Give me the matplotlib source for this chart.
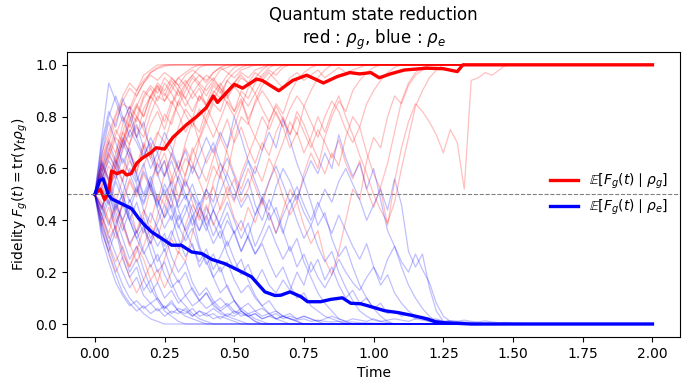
import numpy as np
import matplotlib
matplotlib.use("Agg")
import matplotlib.pyplot as plt

DT = 0.025
T_END = 2.0

# Individual trajectories (values on a 0.025 time grid until absorption)
red_traj = [
    [0.5,0.62,0.70,0.78,0.85,0.83,0.90,0.94,0.97,0.985,0.995,1.0],
    [0.5,0.44,0.55,0.63,0.58,0.70,0.76,0.72,0.81,0.88,0.86,0.92,0.95,0.97,0.99,1.0],
    [0.5,0.41,0.33,0.38,0.27,0.22,0.30,0.25,0.17,0.21,0.14,0.20,0.28,0.24,0.35,0.45,0.40,0.55,0.62,0.58,0.71,0.80,0.77,0.86,0.92,0.95,0.98,1.0],
    [0.5,0.58,0.49,0.62,0.71,0.66,0.59,0.68,0.77,0.82,0.75,0.84,0.90,0.87,0.93,0.96,0.94,0.97,0.99,1.0],
    [0.5,0.55,0.64,0.72,0.68,0.79,0.85,0.80,0.88,0.84,0.78,0.86,0.81,0.74,0.79,0.70,0.62,0.68,0.58,0.50,0.56,0.47,0.52,0.61,0.55,0.64,0.58,0.49,0.42,0.47,0.38,0.31,0.36,0.25,0.19,0.28,0.40,0.52,0.48,0.63,0.72,0.68,0.80,0.88,0.85,0.92,0.96,0.98,1.0],
    [0.5,0.60,0.68,0.62,0.74,0.82,0.78,0.87,0.91,0.86,0.93,0.89,0.84,0.90,0.95,0.92,0.88,0.93,0.90,0.85,0.80,0.86,0.78,0.72,0.80,0.75,0.82,0.76,0.68,0.74,0.66,0.72,0.80,0.74,0.82,0.88,0.80,0.73,0.65,0.58,0.50,0.44,0.39,0.47,0.60,0.72,0.84,0.90,0.95,0.98,1.0],
    [0.5,0.57,0.50,0.62,0.70,0.77,0.72,0.83,0.88,0.92,0.86,0.90,0.95,0.92,0.87,0.91,0.84,0.89,0.93,0.88,0.82,0.87,0.79,0.85,0.90,0.86,0.81,0.76,0.83,0.88,0.84,0.78,0.72,0.80,0.86,0.82,0.75,0.70,0.76,0.66,0.58,0.52,0.38,0.55,0.68,0.78,0.85,0.82,0.78,0.73,0.66,0.75,0.70,0.52,0.94,0.95,0.97,0.96,0.98,1.0],
    [0.5,0.45,0.52,0.60,0.55,0.66,0.61,0.70,0.64,0.57,0.63,0.54,0.60,0.68,0.62,0.55,0.48,0.53,0.44,0.50,0.41,0.36,0.45,0.39,0.48,0.42,0.35,0.44,0.52,0.47,0.58,0.66,0.60,0.72,0.80,0.86,0.82,0.90,0.94,0.97,0.99,1.0],
    [0.5,0.38,0.45,0.36,0.48,0.56,0.50,0.61,0.68,0.74,0.70,0.79,0.86,0.92,0.96,0.99,1.0],
    [0.5,0.62,0.56,0.48,0.40,0.46,0.35,0.42,0.52,0.47,0.58,0.65,0.59,0.70,0.78,0.74,0.83,0.90,0.87,0.94,0.97,0.99,1.0],
    [0.5,0.42,0.35,0.45,0.38,0.30,0.36,0.44,0.39,0.50,0.46,0.56,0.63,0.57,0.68,0.61,0.55,0.64,0.72,0.66,0.58,0.52,0.60,0.53,0.46,0.55,0.63,0.70,0.78,0.73,0.84,0.90,0.95,0.98,1.0],
    [0.5,0.66,0.74,0.81,0.88,0.93,0.90,0.96,0.98,1.0],
    [0.5,0.53,0.61,0.56,0.67,0.74,0.80,0.76,0.85,0.91,0.88,0.94,0.90,0.84,0.89,0.93,0.96,0.94,0.98,0.99,1.0],
    [0.5,0.56,0.65,0.60,0.71,0.78,0.84,0.80,0.88,0.93,0.90,0.95,0.92,0.87,0.82,0.88,0.84,0.78,0.72,0.79,0.70,0.76,0.68,0.62,0.70,0.65,0.74,0.80,0.73,0.82,0.77,0.70,0.64,0.58,0.66,0.61,0.72,0.80,0.76,0.85,0.90,0.94,0.97,0.99,1.0],
    [0.5,0.47,0.40,0.33,0.40,0.31,0.24,0.30,0.38,0.33,0.43,0.52,0.47,0.58,0.66,0.72,0.80,0.86,0.92,0.96,0.99,1.0],
    [0.5,0.59,0.67,0.75,0.70,0.82,0.88,0.93,0.97,0.99,1.0],
    [0.5,0.64,0.72,0.80,0.86,0.91,0.88,0.93,0.96,0.94,0.97,0.95,0.92,0.96,0.98,0.96,0.93,0.97,0.99,0.97,0.95,0.98,0.99,1.0],
    [0.5,0.40,0.31,0.24,0.30,0.22,0.28,0.37,0.31,0.42,0.50,0.45,0.57,0.64,0.60,0.71,0.78,0.85,0.82,0.90,0.93,0.97,0.95,0.98,0.99,1.0],
    [0.5,0.54,0.47,0.39,0.46,0.55,0.49,0.58,0.52,0.63,0.70,0.65,0.76,0.83,0.79,0.88,0.85,0.92,0.89,0.94,0.91,0.95,0.93,0.97,0.95,0.98,0.96,0.99,1.0],
    [0.5,0.61,0.55,0.66,0.74,0.69,0.80,0.75,0.68,0.60,0.66,0.57,0.49,0.56,0.47,0.40,0.46,0.38,0.45,0.53,0.47,0.58,0.65,0.72,0.67,0.78,0.85,0.81,0.89,0.94,0.97,0.99,1.0],
    [0.5,0.36,0.28,0.20,0.26,0.18,0.12,0.17,0.23,0.16,0.25,0.33,0.27,0.38,0.46,0.41,0.52,0.61,0.56,0.68,0.76,0.84,0.91,0.95,0.98,1.0],
    [0.5,0.58,0.66,0.73,0.80,0.76,0.84,0.90,0.87,0.92,0.89,0.85,0.91,0.94,0.90,0.86,0.92,0.95,0.91,0.88,0.93,0.96,0.93,0.89,0.94,0.97,0.94,0.91,0.95,0.97,0.94,0.96,0.98,0.95,0.97,0.99,0.97,0.98,0.99,1.0],
    [0.5,0.46,0.39,0.47,0.56,0.63,0.58,0.69,0.64,0.73,0.81,0.77,0.86,0.81,0.76,0.83,0.78,0.72,0.79,0.86,0.82,0.90,0.87,0.93,0.96,0.99,1.0],
    [0.5,0.63,0.71,0.66,0.77,0.84,0.80,0.88,0.92,0.89,0.95,0.92,0.88,0.93,0.96,0.93,0.90,0.94,0.91,0.87,0.92,0.88,0.84,0.89,0.83,0.78,0.84,0.79,0.73,0.80,0.74,0.68,0.75,0.70,0.64,0.71,0.62,0.56,0.63,0.52,0.45,0.53,0.62,0.74,0.86,0.93,0.97,0.99,1.0],
]

blue_traj = [
    [0.5,0.38,0.30,0.22,0.15,0.10,0.07,0.04,0.02,0.01,0.0],
    [0.5,0.62,0.55,0.45,0.50,0.40,0.33,0.38,0.28,0.20,0.24,0.16,0.10,0.07,0.04,0.02,0.01,0.0],
    [0.5,0.72,0.93,0.86,0.78,0.84,0.72,0.65,0.70,0.58,0.50,0.55,0.44,0.36,0.42,0.30,0.24,0.18,0.22,0.14,0.09,0.05,0.03,0.01,0.0],
    [0.5,0.58,0.66,0.60,0.70,0.64,0.55,0.62,0.52,0.45,0.54,0.48,0.40,0.46,0.38,0.44,0.52,0.47,0.58,0.64,0.57,0.50,0.56,0.46,0.40,0.48,0.42,0.35,0.44,0.50,0.43,0.38,0.45,0.52,0.47,0.55,0.60,0.54,0.48,0.40,0.46,0.52,0.44,0.56,0.46,0.28,0.22,0.27,0.14,0.05,0.01,0.0],
    [0.5,0.60,0.52,0.44,0.50,0.42,0.35,0.41,0.33,0.39,0.46,0.40,0.48,0.55,0.50,0.42,0.36,0.44,0.38,0.30,0.36,0.28,0.34,0.42,0.49,0.44,0.53,0.60,0.55,0.48,0.56,0.63,0.58,0.66,0.60,0.73,0.64,0.57,0.62,0.52,0.60,0.48,0.36,0.30,0.22,0.15,0.10,0.06,0.03,0.01,0.0],
    [0.5,0.44,0.52,0.58,0.50,0.60,0.54,0.47,0.55,0.62,0.57,0.66,0.60,0.53,0.61,0.56,0.64,0.70,0.62,0.55,0.48,0.56,0.63,0.58,0.67,0.74,0.68,0.79,0.71,0.62,0.55,0.47,0.38,0.43,0.33,0.26,0.30,0.22,0.15,0.10,0.06,0.03,0.01,0.0],
    [0.5,0.56,0.63,0.58,0.68,0.75,0.70,0.64,0.72,0.66,0.74,0.68,0.60,0.67,0.58,0.65,0.72,0.66,0.74,0.68,0.80,0.72,0.63,0.55,0.48,0.40,0.45,0.36,0.28,0.33,0.24,0.18,0.12,0.08,0.05,0.02,0.01,0.0],
    [0.5,0.35,0.28,0.36,0.25,0.18,0.22,0.13,0.17,0.10,0.06,0.09,0.05,0.03,0.02,0.01,0.0],
    [0.5,0.40,0.48,0.36,0.29,0.20,0.25,0.17,0.12,0.16,0.10,0.13,0.08,0.11,0.07,0.09,0.06,0.08,0.05,0.07,0.04,0.06,0.04,0.05,0.03,0.04,0.02,0.03,0.02,0.01,0.0],
    [0.5,0.65,0.78,0.70,0.62,0.68,0.57,0.49,0.55,0.44,0.37,0.42,0.33,0.26,0.31,0.22,0.27,0.18,0.12,0.15,0.09,0.05,0.03,0.01,0.0],
    [0.5,0.45,0.38,0.46,0.40,0.48,0.42,0.35,0.43,0.37,0.30,0.36,0.29,0.34,0.41,0.36,0.45,0.39,0.33,0.40,0.35,0.28,0.34,0.27,0.32,0.38,0.31,0.25,0.30,0.22,0.27,0.20,0.25,0.17,0.22,0.15,0.10,0.13,0.08,0.10,0.06,0.08,0.04,0.05,0.03,0.04,0.02,0.03,0.015,0.02,0.01,0.012,0.01,0.008,0.006,0.005,0.003,0.002,0.0],
    [0.5,0.58,0.50,0.41,0.33,0.25,0.30,0.21,0.14,0.09,0.05,0.03,0.01,0.0],
    [0.5,0.53,0.46,0.55,0.48,0.40,0.47,0.38,0.31,0.37,0.28,0.34,0.42,0.36,0.30,0.24,0.29,0.21,0.26,0.32,0.25,0.19,0.23,0.16,0.21,0.15,0.12,0.17,0.13,0.20,0.15,0.24,0.18,0.14,0.19,0.25,0.20,0.16,0.13,0.18,0.22,0.17,0.25,0.30,0.24,0.20,0.27,0.21,0.16,0.08,0.03,0.01,0.0],
    [0.5,0.70,0.82,0.76,0.87,0.80,0.72,0.78,0.66,0.58,0.63,0.52,0.45,0.50,0.41,0.47,0.38,0.31,0.36,0.27,0.21,0.25,0.17,0.11,0.07,0.04,0.02,0.01,0.0],
    [0.5,0.42,0.50,0.43,0.36,0.44,0.52,0.46,0.54,0.48,0.41,0.49,0.57,0.50,0.44,0.36,0.42,0.34,0.40,0.47,0.40,0.33,0.39,0.30,0.36,0.43,0.35,0.42,0.48,0.40,0.33,0.38,0.30,0.24,0.28,0.20,0.14,0.09,0.05,0.03,0.015,0.01,0.005,0.0],
    [0.5,0.37,0.27,0.19,0.12,0.08,0.05,0.07,0.04,0.06,0.03,0.05,0.04,0.06,0.03,0.05,0.03,0.04,0.02,0.04,0.03,0.05,0.03,0.04,0.02,0.03,0.04,0.02,0.03,0.02,0.03,0.02,0.01,0.02,0.03,0.02,0.01,0.02,0.015,0.01,0.02,0.01,0.015,0.02,0.015,0.01,0.02,0.015,0.01,0.015,0.01,0.012,0.01,0.015,0.01,0.008,0.012,0.008,0.005,0.006,0.004,0.003,0.002,0.0],
    [0.5,0.42,0.34,0.27,0.20,0.14,0.18,0.11,0.08,0.10,0.06,0.08,0.05,0.04,0.06,0.03,0.04,0.02,0.03,0.02,0.01,0.0],
    [0.5,0.60,0.70,0.63,0.55,0.47,0.53,0.44,0.36,0.30,0.35,0.26,0.20,0.24,0.16,0.11,0.14,0.09,0.06,0.08,0.05,0.03,0.04,0.02,0.01,0.0],
    [0.5,0.68,0.80,0.88,0.80,0.72,0.77,0.68,0.60,0.66,0.57,0.63,0.55,0.48,0.54,0.46,0.52,0.44,0.37,0.43,0.35,0.40,0.33,0.27,0.31,0.24,0.18,0.22,0.15,0.10,0.12,0.07,0.05,0.03,0.02,0.01,0.0],
    [0.5,0.45,0.53,0.47,0.39,0.31,0.36,0.28,0.22,0.27,0.19,0.14,0.17,0.11,0.14,0.09,0.12,0.08,0.10,0.07,0.09,0.06,0.08,0.05,0.06,0.04,0.05,0.03,0.04,0.02,0.03,0.02,0.01,0.0],
    [0.5,0.57,0.49,0.56,0.64,0.58,0.51,0.59,0.53,0.46,0.52,0.44,0.37,0.43,0.50,0.45,0.38,0.44,0.51,0.58,0.52,0.45,0.50,0.42,0.48,0.55,0.61,0.54,0.47,0.53,0.46,0.40,0.47,0.41,0.35,0.42,0.36,0.30,0.25,0.31,0.22,0.15,0.19,0.12,0.08,0.05,0.03,0.02,0.01,0.0],
    [0.5,0.39,0.31,0.38,0.46,0.40,0.33,0.27,0.32,0.24,0.29,0.21,0.16,0.20,0.13,0.09,0.12,0.07,0.05,0.03,0.02,0.01,0.0],
    [0.5,0.63,0.56,0.64,0.72,0.66,0.58,0.50,0.57,0.48,0.41,0.46,0.38,0.32,0.37,0.29,0.23,0.27,0.20,0.24,0.17,0.12,0.15,0.10,0.07,0.09,0.05,0.03,0.02,0.01,0.0],
    [0.5,0.33,0.24,0.16,0.11,0.07,0.09,0.06,0.08,0.05,0.07,0.04,0.06,0.05,0.03,0.05,0.04,0.06,0.04,0.03,0.05,0.04,0.03,0.04,0.02,0.03,0.02,0.03,0.02,0.015,0.02,0.01,0.015,0.01,0.008,0.01,0.006,0.008,0.005,0.004,0.003,0.002,0.0],
]

# Ensemble means
red_mean_t = [0,0.02,0.035,0.05,0.06,0.08,0.10,0.114,0.13,0.15,0.17,0.2,0.22,0.25,0.28,0.3,0.33,0.365,0.40,0.425,0.44,0.47,0.50,0.53,0.58,0.60,0.63,0.66,0.71,0.76,0.82,0.87,0.915,0.95,0.99,1.02,1.06,1.11,1.19,1.25,1.30,1.32,2.0]
red_mean_v = [0.50,0.52,0.48,0.51,0.59,0.58,0.59,0.575,0.58,0.62,0.64,0.66,0.68,0.675,0.72,0.74,0.77,0.80,0.835,0.88,0.855,0.89,0.925,0.91,0.945,0.94,0.92,0.90,0.94,0.96,0.93,0.955,0.97,0.965,0.97,0.95,0.965,0.98,0.987,0.985,0.974,1.0,1.0]
blue_mean_t = [0,0.018,0.03,0.048,0.06,0.096,0.132,0.156,0.18,0.204,0.24,0.276,0.31,0.347,0.383,0.42,0.466,0.514,0.562,0.61,0.646,0.667,0.70,0.74,0.763,0.81,0.846,0.888,0.918,0.954,0.99,1.04,1.088,1.147,1.195,1.22,1.25,1.35,2.0]
blue_mean_v = [0.50,0.554,0.56,0.50,0.483,0.464,0.445,0.41,0.38,0.355,0.33,0.304,0.304,0.278,0.272,0.249,0.233,0.208,0.182,0.124,0.11,0.111,0.124,0.105,0.086,0.086,0.095,0.101,0.08,0.078,0.067,0.051,0.044,0.031,0.019,0.009,0.005,0.0,0.0]


def traj_xy(vals):
    t = list(np.arange(len(vals)) * DT)
    v = list(vals)
    t.append(T_END)
    v.append(vals[-1])
    return t, v


fig = plt.figure(figsize=(6.9, 3.9), dpi=100)
ax = fig.add_axes([0.097, 0.136, 0.889, 0.731])

for vals in red_traj:
    t, v = traj_xy(vals)
    ax.plot(t, v, color="red", alpha=0.25, lw=0.9)
for vals in blue_traj:
    t, v = traj_xy(vals)
    ax.plot(t, v, color="blue", alpha=0.25, lw=0.9)

ax.plot(red_mean_t, red_mean_v, color="red", lw=2.4,
        label=r"$\mathbb{E}[F_g(t) \mid \rho_g]$")
ax.plot(blue_mean_t, blue_mean_v, color="blue", lw=2.4,
        label=r"$\mathbb{E}[F_g(t) \mid \rho_e]$")
ax.axhline(0.5, color="gray", ls="--", lw=0.8)

ax.set_xlim(-0.1, 2.1)
ax.set_ylim(-0.05, 1.05)
ax.set_xticks([0, 0.25, 0.5, 0.75, 1.0, 1.25, 1.5, 1.75, 2.0])
ax.set_xlabel("Time")
ax.set_ylabel(r"Fidelity $F_g(t) = \mathrm{tr}(\gamma_t \rho_g)$")
ax.set_title("Quantum state reduction\n" + r"red : $\rho_g$, blue : $\rho_e$")
ax.legend(loc="center right", frameon=False)

fig.savefig("out.png", dpi=100)
